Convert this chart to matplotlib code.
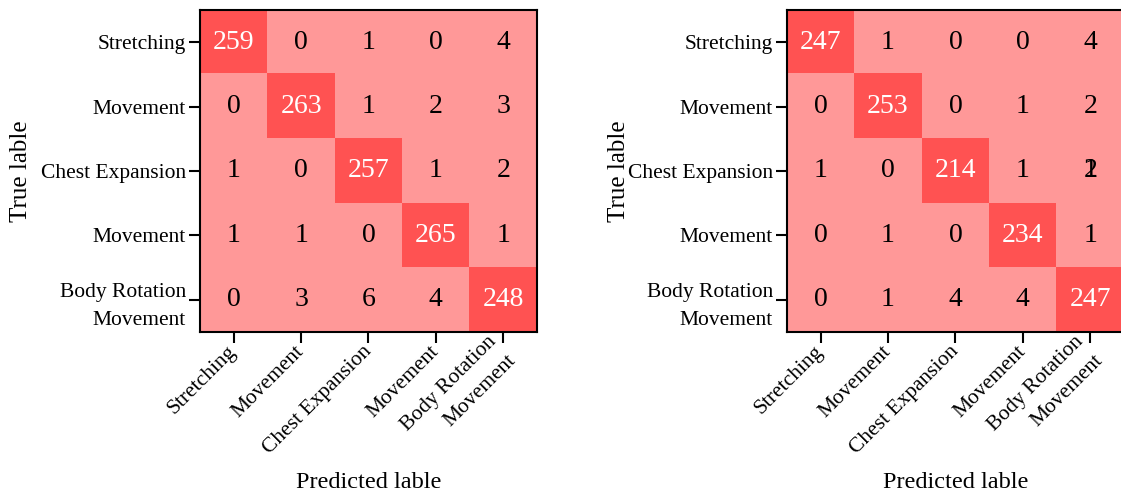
import matplotlib.pyplot as plt
import numpy as np
from matplotlib.colors import ListedColormap, BoundaryNorm

plt.rcParams['font.family'] = ['Liberation Serif', 'DejaVu Serif']

classes = ['Stretching', 'Movement', 'Chest Expansion', 'Movement', 'Body Rotation\nMovement']

cm_left = np.array([
    [259, 0, 1, 0, 4],
    [0, 263, 1, 2, 3],
    [1, 0, 257, 1, 2],
    [1, 1, 0, 265, 1],
    [0, 3, 6, 4, 248],
])

cm_right = np.array([
    [247, 1, 0, 0, 4],
    [0, 253, 0, 1, 2],
    [1, 0, 214, 1, 2],
    [0, 1, 0, 234, 1],
    [0, 1, 4, 4, 247],
])
# a stray "1" printed on top of the 2 in row 3, col 5 of the second matrix
extra_right = [(2, 4, '1')]

cmap = ListedColormap(['#ff9898', '#ff5252'])
norm = BoundaryNorm([0, 100, 1000], cmap.N)

fig = plt.figure(figsize=(11.21, 4.92), dpi=100)
positions = [[0.1784, 0.3252, 0.3006, 0.6545], [0.702, 0.3252, 0.3006, 0.6545]]
ylabel_x = [-0.50, -0.466]


def draw_cm(ax, cm, ylx, extra=()):
    ax.imshow(cm, cmap=cmap, norm=norm, aspect='auto', interpolation='nearest')
    for i in range(cm.shape[0]):
        for j in range(cm.shape[1]):
            c = 'white' if cm[i, j] >= 100 else 'black'
            ax.text(j, i, str(cm[i, j]), ha='center', va='center', fontsize=20, color=c)
    for i, j, s in extra:
        ax.text(j, i, s, ha='center', va='center', fontsize=20, color='black')
    ax.tick_params(length=8, width=1.5, pad=2, labelsize=15.5)
    ax.tick_params(axis='x', pad=4)
    ax.set_xticks(range(len(classes)))
    ax.set_yticks(range(len(classes)))
    ax.set_xticklabels(classes, rotation=45, ha='right', va='center', rotation_mode='anchor',
                       fontsize=15.5, linespacing=1.6, multialignment='right')
    ax.set_yticklabels(classes, fontsize=15.5, multialignment='right', linespacing=1.6)
    for sp in ax.spines.values():
        sp.set_linewidth(1.5)
    ax.set_xlabel('Predicted lable', fontsize=17.5)
    ax.set_ylabel('True lable', fontsize=18)
    ax.yaxis.set_label_coords(ylx, 0.5)
    ax.xaxis.set_label_coords(0.5, -0.435)


ax1 = fig.add_axes(positions[0])
draw_cm(ax1, cm_left, ylabel_x[0])
ax2 = fig.add_axes(positions[1])
draw_cm(ax2, cm_right, ylabel_x[1], extra_right)

fig.savefig('out.png', dpi=100)
